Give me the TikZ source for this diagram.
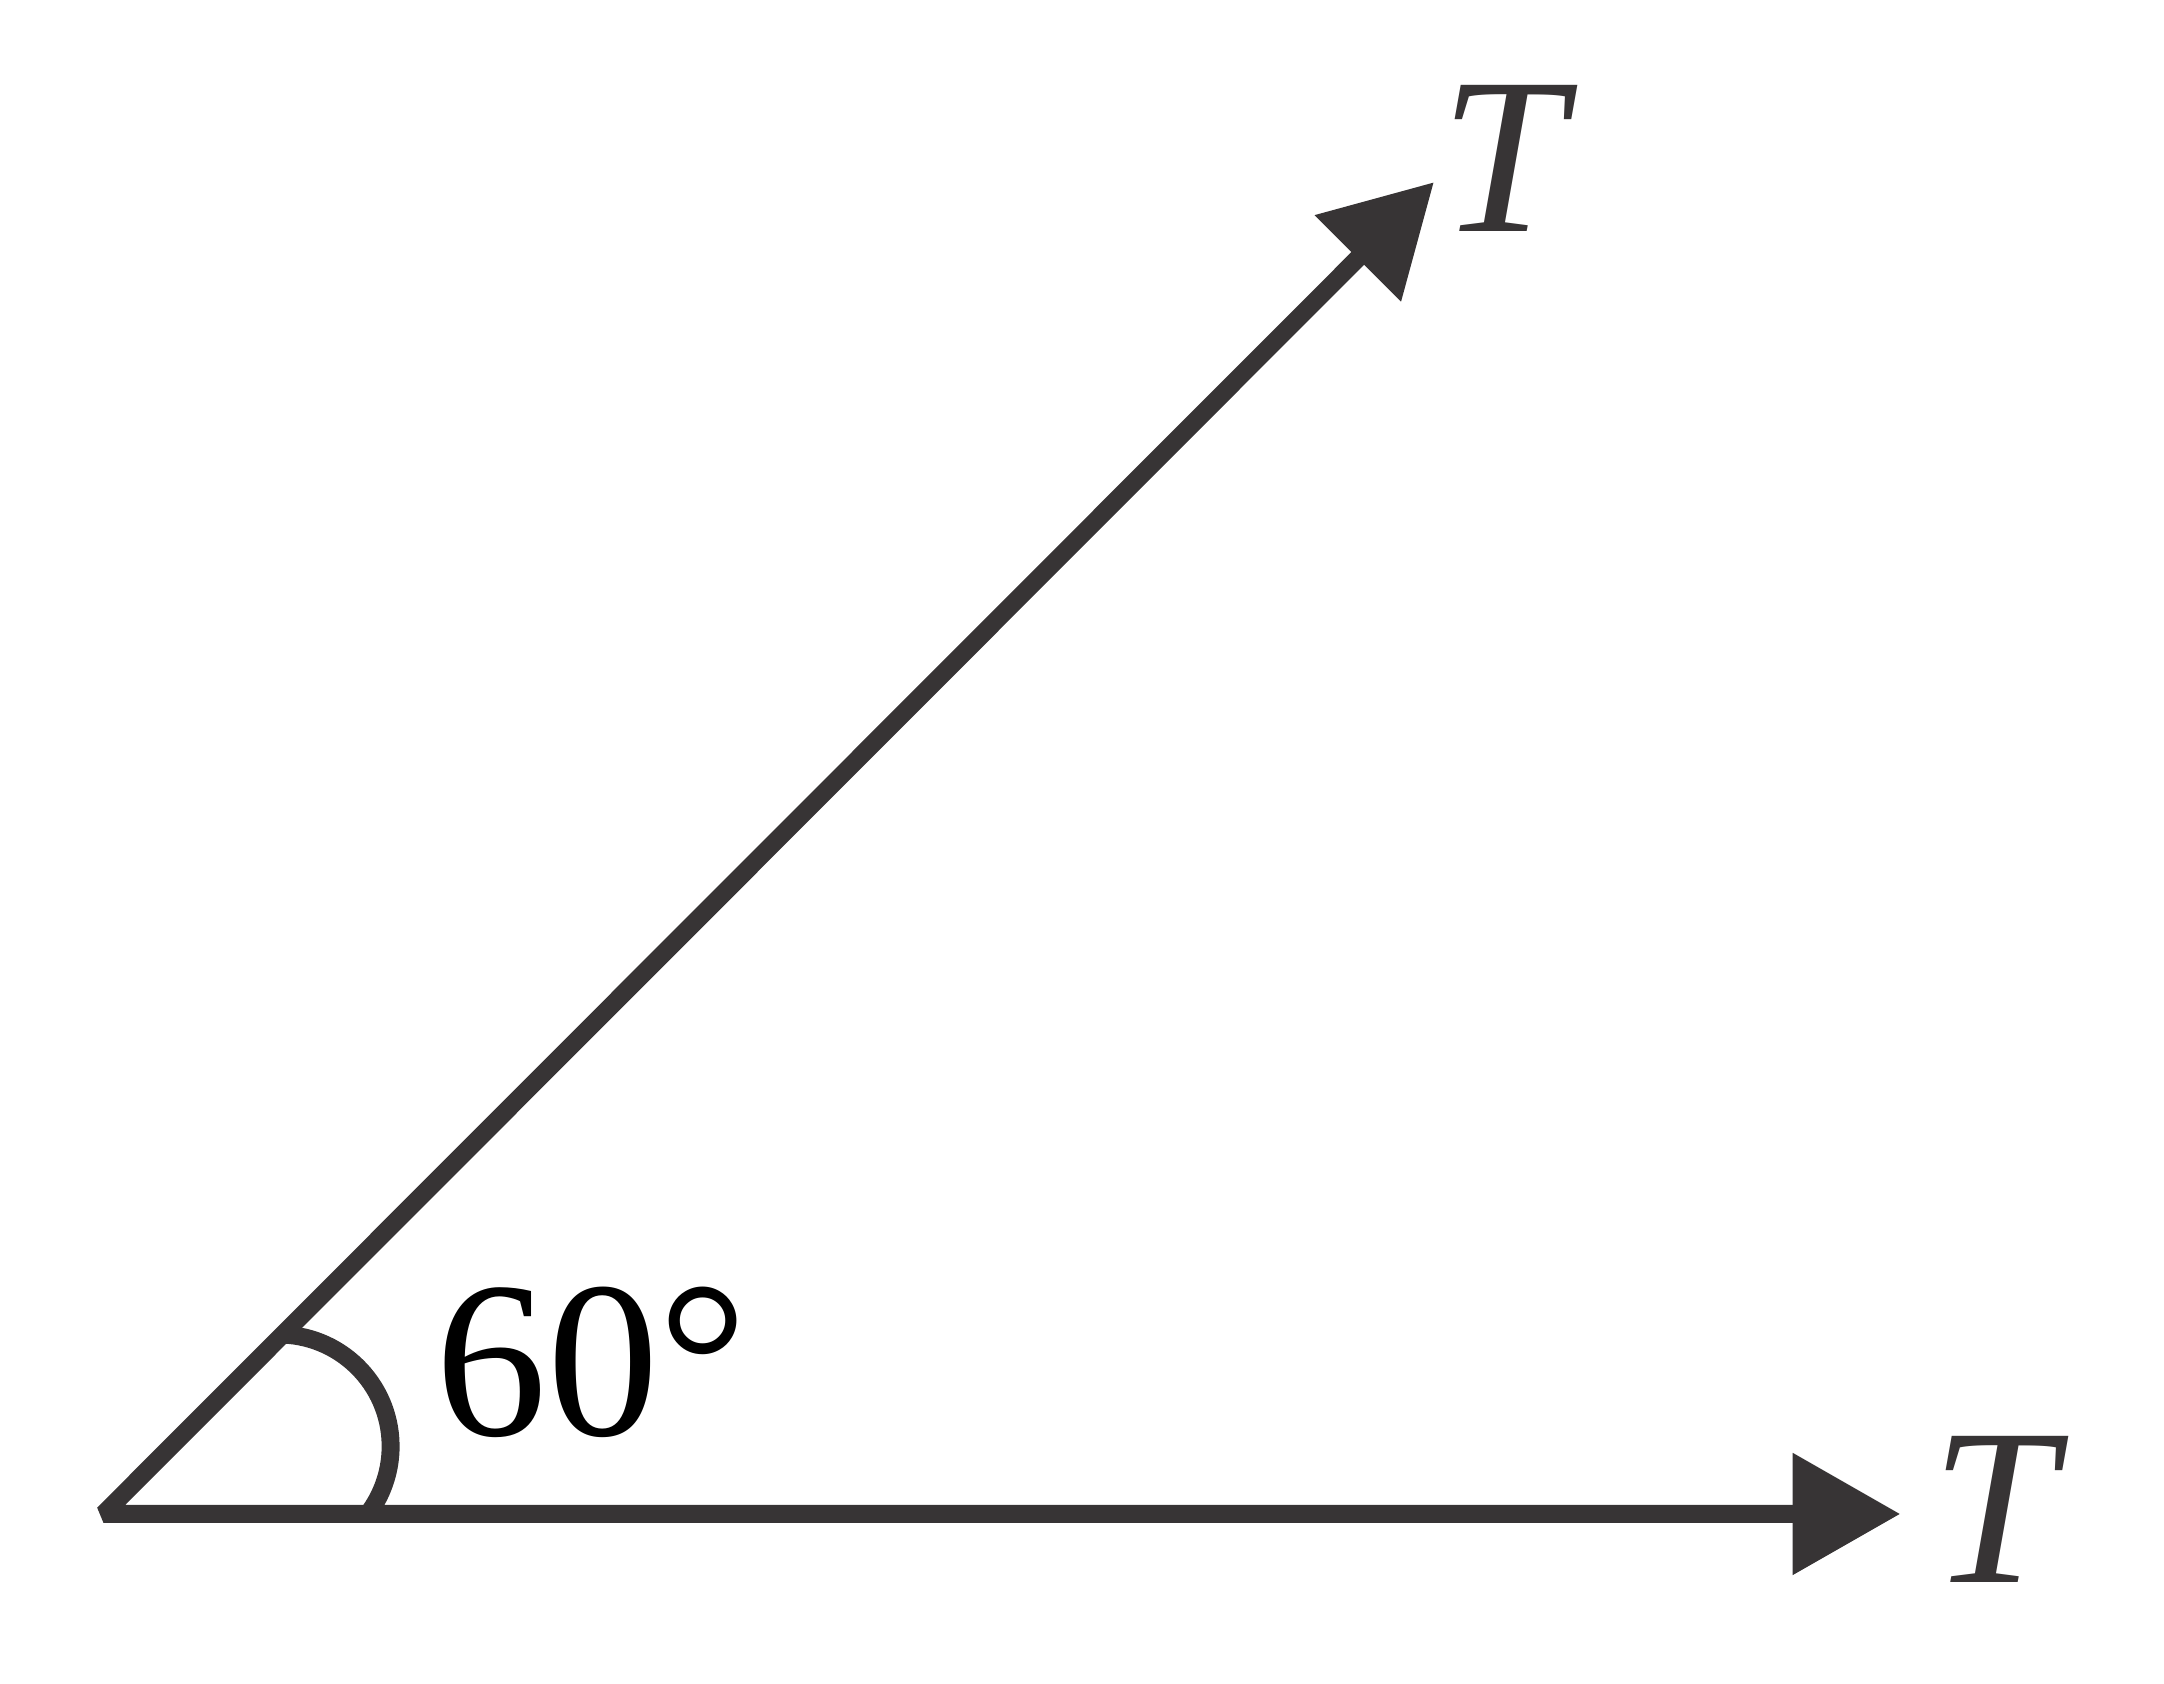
\documentclass[tikz,border=0pt]{standalone}
\usepackage{fontspec}
\setmainfont{Liberation Serif}
\usetikzlibrary{arrows.meta}
\definecolor{ink}{HTML}{373435}
\tikzset{
  ray/.style={draw=ink, line width=0.13cm, line join=bevel,
    {Triangle[length=7.8mm,width=8.5mm,sharp]}-{Triangle[length=7.8mm,width=8.5mm,sharp]}},
  anglearc/.style={draw=ink, line width=0.13cm},
  tlabel/.style={inner sep=0pt, anchor=base west, text=ink, font=\fontsize{46}{50}\selectfont\itshape},
  alabel/.style={inner sep=0pt, anchor=base west, text=black, font=\fontsize{46}{50}\selectfont}
}
\begin{document}
\begin{tikzpicture}[x=0.01cm, y=0.01cm]
\useasboundingbox (0,0) rectangle (1568,1220);
\coordinate (O) at (75,123);
\coordinate (A) at (1039,1088);
\coordinate (B) at (1377,123);
\coordinate (C) at (202,172);
\draw[ray] (A) -- (O) -- (B);
\draw[anglearc] ([shift={(87.9:0.81cm)}]C) arc[start angle=87.9, end angle=-37.2, radius=0.81cm];
\node[tlabel] (TA) at (1043,1052) {T};
\node[tlabel] (TB) at (1399,73) {T};
\node[alabel] (ang) at (315,180) {60°};
\end{tikzpicture}
\end{document}
